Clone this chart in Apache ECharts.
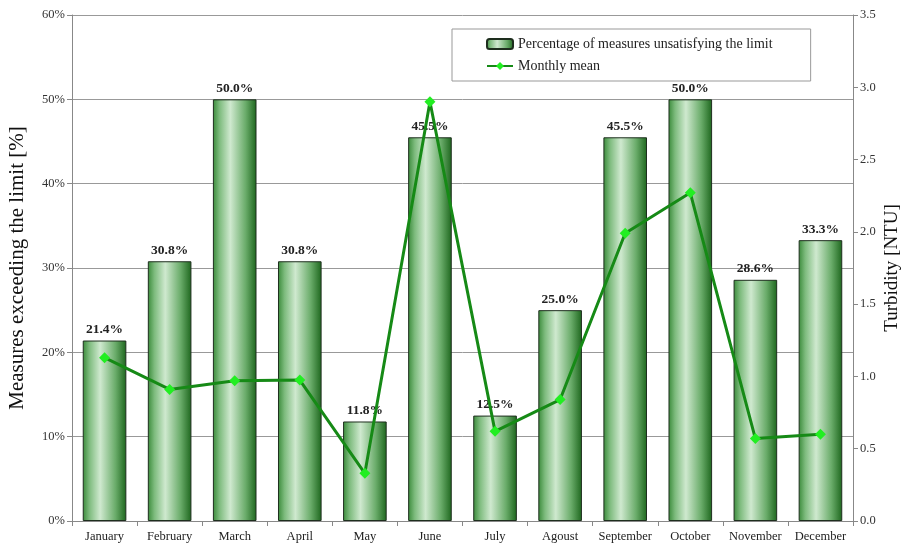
<!DOCTYPE html>
<html>
<head>
<meta charset="utf-8">
<script src="https://cdn.jsdelivr.net/npm/echarts@6/dist/echarts.min.js"></script>
<style>
html,body{margin:0;padding:0;background:#fff;}
#chart{width:902px;height:546px;}
</style>
</head>
<body>
<div id="chart"></div>
<script>
var months = ['January','February','March','April','May','June','July','Agoust','September','October','November','December'];
var percentExceeding = [21.4, 30.8, 50.0, 30.8, 11.8, 45.5, 12.5, 25.0, 45.5, 50.0, 28.6, 33.3];
var monthlyMean = [1.13, 0.91, 0.97, 0.975, 0.33, 2.90, 0.62, 0.84, 1.99, 2.27, 0.57, 0.60];

var serif = '"Liberation Serif", "DejaVu Serif", serif';

var barGradient = new echarts.graphic.LinearGradient(0, 0, 1, 0, [
	{offset: 0, color: '#3a8a3a'},
	{offset: 0.15, color: '#7dbb7d'},
	{offset: 0.4, color: '#cfe9cf'},
	{offset: 0.75, color: '#6aac6a'},
	{offset: 1, color: '#1d661d'}
]);

var chart = echarts.init(document.getElementById('chart'));
var option = {
	backgroundColor: '#fff',
	animation: false,
	grid: {
		left: 72,
		right: 49,
		top: 15,
		bottom: 25,
		outerBoundsMode: 'none',
		containLabel: false
	},
	legend: {
		orient: 'vertical',
		left: 452,
		top: 29,
		borderColor: '#999',
		borderWidth: 1,
		padding: [8, 38, 8, 34],
		itemGap: 8,
		itemWidth: 26,
		itemHeight: 10,
		textStyle: {
			fontFamily: serif,
			fontSize: 14,
			color: '#222'
		},
		data: ['Percentage of measures unsatisfying the limit', 'Monthly mean']
	},
	xAxis: {
		type: 'category',
		data: months,
		axisLine: {lineStyle: {color: '#888'}},
		axisTick: {show: true, length: 5, lineStyle: {color: '#888'}},
		axisLabel: {
			fontFamily: serif,
			fontSize: 12.5,
			color: '#222',
			margin: 9,
			interval: 0
		}
	},
	yAxis: [
		{
			type: 'value',
			min: 0,
			max: 60,
			interval: 10,
			name: 'Measures exceeding the limit [%]',
			nameLocation: 'middle',
			nameGap: 44,
			nameMoveOverlap: false,
			nameTextStyle: {
				fontFamily: serif,
				fontSize: 21,
				color: '#111'
			},
			axisLine: {show: true, lineStyle: {color: '#888'}},
			axisTick: {show: true, length: 5, lineStyle: {color: '#888'}},
			axisLabel: {
				formatter: '{value}%',
				fontFamily: serif,
				fontSize: 12.5,
				color: '#333',
				margin: 7
			},
			splitLine: {show: true, lineStyle: {color: '#999', width: 1}}
		},
		{
			type: 'value',
			min: 0,
			max: 3.5,
			interval: 0.5,
			name: 'Turbidity [NTU]',
			nameLocation: 'middle',
			nameGap: 30,
			nameMoveOverlap: false,
			nameTextStyle: {
				fontFamily: serif,
				fontSize: 19,
				color: '#111'
			},
			axisLine: {show: true, lineStyle: {color: '#888'}},
			axisTick: {show: true, length: 5, lineStyle: {color: '#888'}},
			axisLabel: {
				formatter: function(v){ return v.toFixed(1); },
				fontFamily: serif,
				fontSize: 12.5,
				color: '#333',
				margin: 7
			},
			splitLine: {show: false}
		}
	],
	series: [
		{
			name: 'Percentage of measures unsatisfying the limit',
			type: 'bar',
			yAxisIndex: 0,
			barWidth: '67%',
			itemStyle: {
				color: barGradient,
				borderColor: '#1e2e1e',
				borderWidth: 1
			},
			label: {
				show: true,
				position: 'top',
				distance: 4,
				formatter: function(p){ return p.value.toFixed(1) + '%'; },
				fontFamily: serif,
				fontSize: 13.5,
				fontWeight: 'bold',
				color: '#222'
			},
			data: percentExceeding
		},
		{
			name: 'Monthly mean',
			type: 'line',
			yAxisIndex: 1,
			symbol: 'diamond',
			symbolSize: 11,
			lineStyle: {color: '#168a16', width: 3},
			itemStyle: {color: '#22ee22'},
			data: monthlyMean
		}
	]
};
chart.setOption(option);
</script>
</body>
</html>
